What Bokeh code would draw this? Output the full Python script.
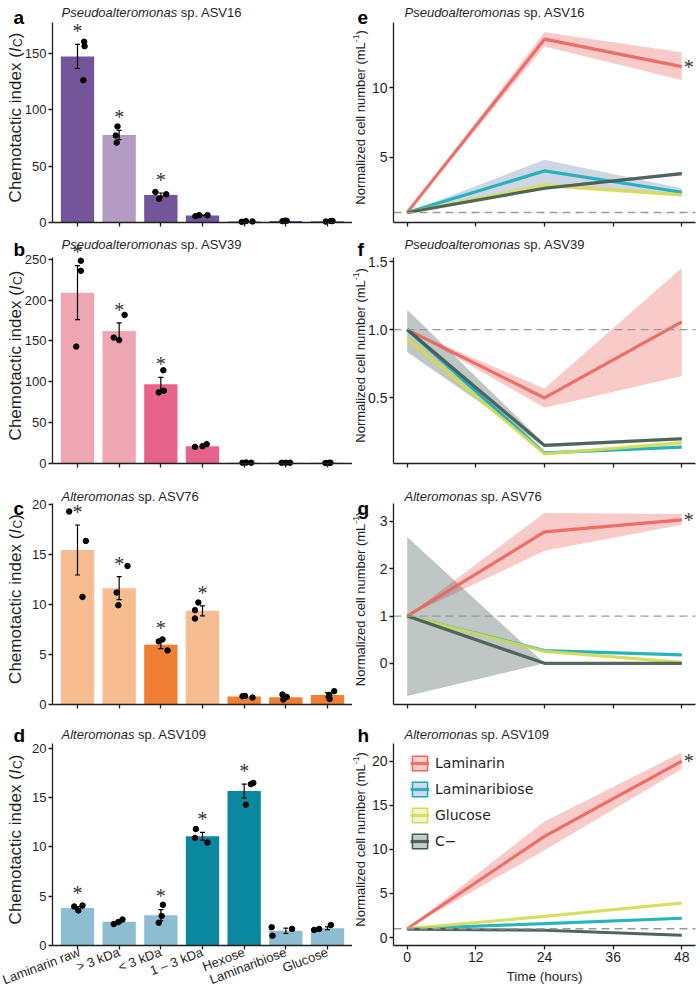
from math import pi
from bokeh.plotting import figure
from bokeh.models import (Range1d, FixedTicker, Label, LabelSet, ColumnDataSource,
                          Legend, LegendItem, PrintfTickFormatter)
from bokeh.layouts import column, row
from bokeh.embed import file_html
from bokeh.resources import INLINE

FONT = "Liberation Sans"
TXT = "#1f1f1f"
AX = "#1f1f1f"

# ---------------- left column: chemotactic index ----------------
substrates = ["Laminarin raw", "> 3 kDa", "< 3 kDa", "1 – 3 kDa", "Hexose", "Laminaribiose", "Glucose"]

a_mean = [147.0, 77.5, 24.3, 6.3, 0.9, 1.4, 1.1]
a_se = [10.7, 4.1, 1.8, 0.3, 0.2, 0.1, 0.2]
a_reps = [[160, 156, 126], [85, 77, 70.7], [27, 21, 25], [5.6, 6.5, 6.5],
          [0.6, 1.2, 0.9], [1.2, 1.6, 1.5], [0.8, 1.3, 1.3]]
a_jit = [[0.16, 0.17, 0.14], [-0.04, -0.08, -0.06], [-0.13, -0.04, 0.13], [-0.17, -0.08, 0.12],
         [-0.06, 0.04, 0.2], [-0.08, -0.02, 0.02], [-0.04, 0.08, 0.12]]
a_sig = [1, 1, 1, 0, 0, 0, 0]

b_mean = [209.0, 162.0, 96.8, 21.2, 1.0, 0.9, 0.8]
b_se = [33.0, 10.0, 8.6, 1.0, 0.1, 0.1, 0.1]
b_reps = [[248, 235.7, 143], [181.8, 154, 151], [114, 87, 89], [20.4, 21.2, 23.7],
          [0.9, 1.2, 1.0], [0.8, 1.0, 1.0], [0.6, 0.9, 0.9]]
b_jit = [[0.08, 0.08, -0.03], [0.13, -0.13, 0.0], [0.06, -0.05, 0.07], [-0.18, 0.0, 0.1],
         [-0.04, 0.05, 0.17], [-0.1, 0.0, 0.1], [-0.05, 0.04, 0.07]]
b_sig = [1, 1, 1, 0, 0, 0, 0]

c_mean = [15.45, 11.63, 5.98, 9.37, 0.8, 0.73, 0.96]
c_se = [2.5, 1.15, 0.4, 0.5, 0.05, 0.15, 0.22]
c_reps = [[19.3, 16.35, 10.76], [13.85, 11.2, 9.93], [6.31, 6.51, 5.41], [10.2, 9.43, 8.6],
          [0.83, 0.86, 0.7], [1.0, 0.5, 0.76], [1.33, 0.56, 0.96]]
c_jit = [[-0.2, 0.2, 0.12], [0.2, -0.06, -0.02], [-0.05, 0.04, 0.16], [-0.1, -0.18, -0.18],
         [-0.04, 0.02, 0.2], [-0.08, -0.06, 0.02], [0.16, 0.05, 0.04]]
c_sig = [1, 1, 1, 1, 0, 0, 0]

d_mean = [3.8, 2.41, 3.07, 11.09, 15.68, 1.49, 1.75]
d_se = [0.16, 0.12, 0.58, 0.4, 0.7, 0.27, 0.15]
d_reps = [[3.96, 3.56, 4.06], [2.18, 2.38, 2.64], [4.13, 3.0, 2.31], [11.82, 10.92, 10.46],
          [16.5, 16.37, 14.29], [1.85, 0.99, 1.68], [1.58, 1.68, 2.08]]
d_jit = [[-0.08, 0.02, 0.12], [-0.13, -0.02, 0.08], [0.05, 0.02, -0.05], [-0.16, -0.18, 0.12],
         [0.22, 0.16, 0.04], [-0.34, -0.32, 0.15], [-0.32, -0.2, 0.08]]
d_sig = [1, 0, 1, 1, 1, 0, 0]

# bar colours (style)
a_cols = ["#74559A", "#B39BC6", "#74559A", "#74559A", "#74559A", "#74559A", "#74559A"]
b_cols = ["#EDA6B2", "#EDA6B2", "#E8628E", "#E8628E", "#E8628E", "#E8628E", "#E8628E"]
c_cols = ["#F7BD90", "#F7BD90", "#F07F34", "#F7BD90", "#F07F34", "#F07F34", "#F07F34"]
d_cols = ["#8DBDD0", "#8DBDD0", "#8DBDD0", "#0A88A0", "#0A88A0", "#8DBDD0", "#8DBDD0"]

# ---------------- right column: normalized cell number ----------------
hours = [0, 24, 48]
treatments = ["Laminarin", "Laminaribiose", "Glucose", "C−"]

e_mean = {"Laminarin": [1, 13.5, 11.52], "Laminaribiose": [1, 4.0, 2.46],
          "Glucose": [1, 2.95, 2.27], "C−": [1, 2.75, 3.8]}
e_lo = {"Laminarin": [1, 12.97, 10.56], "Laminaribiose": [1, 3.05, 2.2],
        "Glucose": [1, 2.8, 2.15], "C−": [1, 2.65, 3.68]}
e_hi = {"Laminarin": [1, 14.0, 12.56], "Laminaribiose": [1, 4.8, 2.75],
        "Glucose": [1, 3.15, 2.4], "C−": [1, 2.85, 3.92]}

f_mean = {"Laminarin": [1.0, 0.497, 1.057], "Laminaribiose": [1.0, 0.093, 0.135],
          "Glucose": [0.934, 0.086, 0.167], "C−": [1.0, 0.148, 0.197]}
f_lo = {"Laminarin": [1.0, 0.425, 0.659], "Laminaribiose": [0.99, 0.085, 0.125],
        "Glucose": [0.92, 0.08, 0.155], "C−": [0.835, 0.135, 0.185]}
f_hi = {"Laminarin": [1.0, 0.567, 1.452], "Laminaribiose": [1.01, 0.1, 0.145],
        "Glucose": [0.95, 0.092, 0.18], "C−": [1.145, 0.16, 0.21]}

g_mean = {"Laminarin": [1, 2.78, 3.035], "Laminaribiose": [1, 0.27, 0.18],
          "Glucose": [1, 0.255, 0.02], "C−": [1, 0.0, 0.0]}
g_lo = {"Laminarin": [1, 2.38, 2.93], "Laminaribiose": [1, 0.25, 0.16],
        "Glucose": [1, 0.235, 0.0], "C−": [-0.69, 0.0, 0.0]}
g_hi = {"Laminarin": [1, 3.18, 3.16], "Laminaribiose": [1, 0.29, 0.2],
        "Glucose": [1, 0.275, 0.04], "C−": [2.67, 0.0, 0.0]}

h_mean = {"Laminarin": [1, 11.47, 20.0], "Laminaribiose": [1, 1.58, 2.19],
          "Glucose": [1, 2.4, 3.92], "C−": [0.94, 0.83, 0.26]}
h_lo = {"Laminarin": [1, 9.89, 19.1], "Laminaribiose": [1, 1.5, 2.05],
        "Glucose": [1, 2.3, 3.75], "C−": [0.9, 0.75, 0.15]}
h_hi = {"Laminarin": [1, 13.17, 21.0], "Laminaribiose": [1, 1.66, 2.33],
        "Glucose": [1, 2.5, 4.1], "C−": [0.98, 0.9, 0.37]}

TCOL = {"Laminarin": "#EB645E", "Laminaribiose": "#14AFBA", "Glucose": "#D5DB53", "C−": "#42594F"}
BCOL = {"Laminarin": "#EB645E", "Laminaribiose": "#6F86AE", "Glucose": "#D5DB53", "C−": "#42594F"}

# Arial / Liberation Sans advance widths (per 1000 em)
CW = {'P': 667, 's': 500, 'e': 556, 'u': 556, 'd': 556, 'o': 556, 'a': 556, 'l': 222, 't': 278,
      'r': 333, 'm': 833, 'n': 556, 'A': 667, 'C': 722, 'h': 556, 'c': 500, 'i': 222, ' ': 278,
      'x': 500, '(': 333, ')': 333, 'I': 278, 'N': 722, 'z': 500, 'b': 556, 'L': 556, '-': 333,
      '1': 556}


def tw(s, size):
    return sum(CW.get(ch, 556) for ch in s) * size / 1000.0


# layout (pixels): rows = (top border, panel height, bottom border)
ROWS = [(22, 200, 15), (20, 206, 20), (20, 201, 19), (20, 202, 52)]
TITLE_BASE = [11.5, 6.5, 12.5, 11]     # title baseline, from the row's top
LETTER_BASE = [17, 12, 25, 12]        # panel letter baseline, from the row's top
L_GEOM = (52, 300, 0)                 # left border, panel width, right border
R_GEOM = (41, 302, 5)


def base_fig(geom, rowi, x0, x1, y0, y1):
    left, fw, right = geom
    top, H, bottom = ROWS[rowi]
    kx = (x1 - x0) / fw
    ky = (y1 - y0) / H
    W = left + fw + right
    Hc = top + H + bottom
    p = figure(width=W, height=Hc, title=None,
               x_range=Range1d(x0 - left * kx, x1 + right * kx),
               y_range=Range1d(y0 - bottom * ky, y1 + top * ky),
               min_border_left=0, min_border_right=0, min_border_top=0, min_border_bottom=0,
               output_backend="svg", toolbar_location=None, tools="")
    p.outline_line_color = None
    p.xgrid.visible = False
    p.ygrid.visible = False
    p.background_fill_color = "white"
    p.border_fill_color = "white"
    p.xaxis.fixed_location = y0
    p.xaxis.bounds = (x0, x1)
    p.yaxis.fixed_location = x0
    p.yaxis.bounds = (y0, y1)
    for ax in p.axis:
        ax.axis_line_color = AX
        ax.axis_line_width = 1.3
        ax.major_tick_line_color = AX
        ax.major_tick_line_width = 1.3
        ax.major_tick_out = 4
        ax.major_tick_in = 0
        ax.minor_tick_line_color = None
        ax.major_label_text_font = FONT
        ax.major_label_text_color = TXT
        ax.major_label_standoff = 2
    return p, Hc


def lab(p, Hc, x, ytop, text, size, style="normal", angle=0.0, baseline="alphabetic", color=TXT):
    p.add_layout(Label(x=x, y=Hc - ytop, x_units="screen", y_units="screen", text=text, angle=angle,
                       text_font=FONT, text_font_size=f"{size}px", text_font_style=style,
                       text_align="left", text_baseline=baseline, text_color=color))


def add_title(p, Hc, rowi, letter, genus, rest, letter_x, title_x):
    lab(p, Hc, letter_x, LETTER_BASE[rowi], letter, 19, "bold", color="black")
    lab(p, Hc, title_x, TITLE_BASE[rowi], genus, 13, "italic")
    lab(p, Hc, title_x + tw(genus, 13) + tw(" ", 13), TITLE_BASE[rowi], rest, 13)


def left_ylabel(p, Hc, rowi):
    top, H, bottom = ROWS[rowi]
    base = 14.5
    t1 = "Chemotactic index ("
    L = tw(t1, 17) + tw("I", 17) + 0.5 + tw("C", 12) + tw(")", 17)
    yc = top + H / 2 - 5                       # centre, from top
    y = Hc - yc - L / 2                        # start, from bottom
    v = dict(angle=pi / 2)
    lab(p, Hc, base, Hc - y, t1, 17, **v)
    y += tw(t1, 17)
    lab(p, Hc, base, Hc - y, "I", 17, "italic", **v)
    y += tw("I", 17) + 0.5
    lab(p, Hc, base + 3, Hc - y, "C", 12, **v)
    y += tw("C", 12)
    lab(p, Hc, base, Hc - y, ")", 17, **v)


def right_ylabel(p, Hc, rowi):
    top, H, bottom = ROWS[rowi]
    base = 8
    t1 = "Normalized cell number (mL"
    L = tw(t1, 13) + tw("-1", 8.5) + tw(")", 13)
    yc = top + H / 2 - 5
    y = Hc - yc - L / 2
    v = dict(angle=pi / 2)
    lab(p, Hc, base, Hc - y, t1, 13, **v)
    y += tw(t1, 13)
    lab(p, Hc, base - 5, Hc - y, "-1", 8.5, **v)
    y += tw("-1", 8.5)
    lab(p, Hc, base, Hc - y, ")", 13, **v)


def bar_panel(rowi, letter, genus, rest, mean, se, reps, jit, sig, cols, ymax, yticks, labels):
    p, Hc = base_fig(L_GEOM, rowi, 0.4, 7.6, 0, ymax)
    xs = list(range(1, len(mean) + 1))
    p.vbar(x=xs, top=mean, bottom=0, width=0.8, fill_color=cols, line_color=None)
    lo = [m - s for m, s in zip(mean, se)]
    hi = [m + s for m, s in zip(mean, se)]
    p.segment(x0=xs, y0=lo, x1=xs, y1=hi, line_color="black", line_width=1.2)
    cw = 0.06
    p.segment(x0=[x - cw for x in xs], y0=hi, x1=[x + cw for x in xs], y1=hi, line_color="black", line_width=1.2)
    p.segment(x0=[x - cw for x in xs], y0=lo, x1=[x + cw for x in xs], y1=lo, line_color="black", line_width=1.2)
    px, py = [], []
    for x, rr, jj in zip(xs, reps, jit):
        for r, j in zip(rr, jj):
            px.append(x + j)
            py.append(r)
    p.scatter(px, py, size=5.5, fill_color="black", line_color="black")
    sx = [x for x, s in zip(xs, sig) if s]
    sy = [h + 0.06 * ymax for h, s in zip(hi, sig) if s]
    src = ColumnDataSource(dict(x=sx, y=sy, t=["*"] * len(sx)))
    p.add_layout(LabelSet(x="x", y="y", text="t", source=src, text_align="center",
                          text_baseline="middle", text_font=FONT, text_font_size="20px",
                          text_color="#333333", y_offset=1))
    p.xaxis.ticker = FixedTicker(ticks=xs)
    p.yaxis.ticker = FixedTicker(ticks=yticks)
    p.yaxis.major_label_text_font_size = "13px"
    if labels:
        p.xaxis.major_label_overrides = {x: s for x, s in zip(xs, substrates)}
        p.xaxis.major_label_orientation = 0.36
        p.xaxis.major_label_text_font_size = "13px"
    else:
        p.xaxis.major_label_text_font_size = "1px"
        p.xaxis.major_label_text_color = None
    add_title(p, Hc, rowi, letter, genus, rest, 13, 61)
    left_ylabel(p, Hc, rowi)
    return p


def line_panel(rowi, letter, genus, rest, mean, lo, hi, ymin, ymax, yticks, star, legend, labels,
               fmt=None):
    x0, x1 = -2.4, 50.4
    p, Hc = base_fig(R_GEOM, rowi, x0, x1, ymin, ymax)
    for t in treatments:
        p.varea(x=hours, y1=lo[t], y2=hi[t], fill_color=BCOL[t], fill_alpha=0.34)
    lines = {}
    for t in treatments:
        lines[t] = p.line(hours, mean[t], line_color=TCOL[t], line_width=3.2, line_alpha=0.9)
    p.segment(x0=[x0], y0=[1], x1=[x1], y1=[1], line_color="#9a9a9a", line_dash="8 5", line_width=1.3)
    if star:
        src = ColumnDataSource(dict(x=[hours[-1]], y=[mean["Laminarin"][-1]], t=["*"]))
        p.add_layout(LabelSet(x="x", y="y", text="t", source=src, text_align="center",
                              text_baseline="middle", text_font=FONT, text_font_size="20px",
                              text_color="#333333", x_offset=7, y_offset=0))
    p.xaxis.ticker = FixedTicker(ticks=[0, 12, 24, 36, 48])
    p.yaxis.ticker = FixedTicker(ticks=yticks)
    if fmt:
        p.yaxis.formatter = PrintfTickFormatter(format=fmt)
    p.yaxis.major_label_text_font_size = "14px"
    if labels:
        p.xaxis.major_label_text_font_size = "14px"
        p.xaxis.axis_label = "Time (hours)"
        p.xaxis.axis_label_text_font = FONT
        p.xaxis.axis_label_text_font_size = "13.5px"
        p.xaxis.axis_label_text_font_style = "normal"
        p.xaxis.axis_label_text_color = TXT
        p.xaxis.axis_label_standoff = 4
    else:
        p.xaxis.major_label_text_font_size = "1px"
        p.xaxis.major_label_text_color = None
    if legend:
        top, H, bottom = ROWS[rowi]
        nan = float("nan")
        items = []
        for t in treatments:
            key = p.quad(left=[nan], right=[nan], top=[nan], bottom=[nan], fill_color=BCOL[t],
                         fill_alpha=0.3, line_color=TCOL[t], line_width=1.5)
            items.append(LegendItem(label=t, renderers=[key, lines[t]]))
        leg = Legend(items=items, location=(R_GEOM[0] + 17, Hc - (top + 11) - 96),
                     glyph_width=19, glyph_height=18, label_height=18, spacing=8, padding=0,
                     margin=0, label_standoff=6, label_text_font="DejaVu Sans",
                     label_text_font_size="14px", label_text_color=TXT,
                     border_line_color=None, background_fill_alpha=0)
        p.add_layout(leg)
    add_title(p, Hc, rowi, letter, genus, rest, 5, 52)
    right_ylabel(p, Hc, rowi)
    return p


pa = bar_panel(0, "a", "Pseudoalteromonas", "sp. ASV16", a_mean, a_se, a_reps, a_jit, a_sig, a_cols,
               177, [0, 50, 100, 150], False)
pb = bar_panel(1, "b", "Pseudoalteromonas", "sp. ASV39", b_mean, b_se, b_reps, b_jit, b_sig, b_cols,
               252, [0, 50, 100, 150, 200, 250], False)
pc = bar_panel(2, "c", "Alteromonas", "sp. ASV76", c_mean, c_se, c_reps, c_jit, c_sig, c_cols,
               20.1, [0, 5, 10, 15, 20], False)
pd_ = bar_panel(3, "d", "Alteromonas", "sp. ASV109", d_mean, d_se, d_reps, d_jit, d_sig, d_cols,
                20.5, [0, 5, 10, 15, 20], True)

pe = line_panel(0, "e", "Pseudoalteromonas", "sp. ASV16", e_mean, e_lo, e_hi, 0.28, 14.7, [5, 10],
                True, False, False)
pf = line_panel(1, "f", "Pseudoalteromonas", "sp. ASV39", f_mean, f_lo, f_hi, 0.015, 1.53,
                [0.5, 1.0, 1.5], False, False, False, fmt="%.1f")
pg = line_panel(2, "g", "Alteromonas", "sp. ASV76", g_mean, g_lo, g_hi, -0.87, 3.38, [0, 1, 2, 3],
                True, False, False)
ph = line_panel(3, "h", "Alteromonas", "sp. ASV109", h_mean, h_lo, h_hi, -0.9, 22.0,
                [0, 5, 10, 15, 20], True, True, True)

layout = column(row(pa, pe), row(pb, pf), row(pc, pg), row(pd_, ph))

with open("out.html", "w") as fh:
    fh.write(file_html(layout, INLINE))
